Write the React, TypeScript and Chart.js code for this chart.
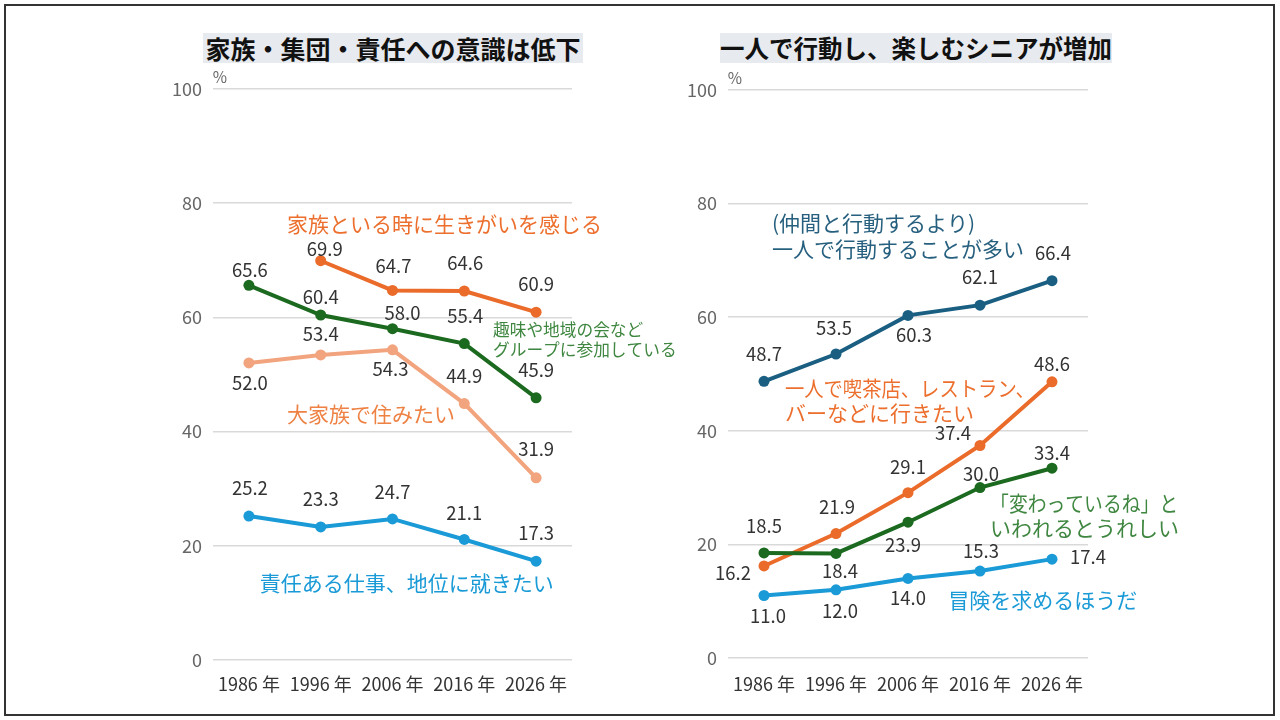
import React, { useEffect, useRef } from 'react';
import { Chart, registerables } from 'chart.js';

Chart.register(...registerables);

const FONT = '"Noto Sans CJK JP", "Noto Sans", sans-serif';

// ---- data ----
const YEARS = ['1986 年', '1996 年', '2006 年', '2016 年', '2026 年'];

// left chart
const FAMILY_TIME: (number | null)[] = [null, 69.9, 64.7, 64.6, 60.9];
const GROUP_HOBBY = [65.6, 60.4, 58.0, 55.4, 45.9];
const BIG_FAMILY = [52.0, 53.4, 54.3, 44.9, 31.9];
const RESPONSIBLE_JOB = [25.2, 23.3, 24.7, 21.1, 17.3];

// right chart
const ALONE_ACTION = [48.7, 53.5, 60.3, 62.1, 66.4];
const ALONE_CAFE = [16.2, 21.9, 29.1, 37.4, 48.6];
const ODD_PRAISE = [18.5, 18.4, 23.9, 30.0, 33.4];
const ADVENTURE = [11.0, 12.0, 14.0, 15.3, 17.4];

const Y_TICKS_STEP = 20;

// ---- styling ----
const C_ORANGE = '#ea6b2a';
const C_GREEN = '#1b6a1f';
const C_SALMON = '#f2a47e';
const C_BLUE = '#1a9ad6';
const C_TEAL = '#1a5f82';

type Series = { data: (number | null)[]; color: string; offsets: [number, number][] };
type Note = {
  lines: string[];
  idx: number;
  val: number;
  color: string;
  size: number;
  lineHeight: number;
  maxWidths?: (number | undefined)[];
};

const LEFT_SERIES: Series[] = [
  { data: FAMILY_TIME, color: C_ORANGE, offsets: [[0, 0], [4, -12], [1, -24], [1, -28], [0, -28]] },
  { data: GROUP_HOBBY, color: C_GREEN, offsets: [[1, -15], [0, -18], [10, -16], [1, -28], [0, -28]] },
  { data: BIG_FAMILY, color: C_SALMON, offsets: [[1, 20], [0, -21], [-2, 19], [0, -28], [0, -29]] },
  { data: RESPONSIBLE_JOB, color: C_BLUE, offsets: [[1, -28], [0, -28], [0, -27], [0, -27], [0, -28]] },
];

const RIGHT_SERIES: Series[] = [
  { data: ALONE_ACTION, color: C_TEAL, offsets: [[0, -27], [-2, -26], [6, 20], [0, -28], [1, -28]] },
  { data: ODD_PRAISE, color: C_GREEN, offsets: [[0, -27], [4, 18], [-5, 23], [1, -14], [0, -15]] },
  { data: ALONE_CAFE, color: C_ORANGE, offsets: [[-31, 7], [1, -27], [0, -26], [-27, -13], [0, -18]] },
  { data: ADVENTURE, color: C_BLUE, offsets: [[4, 20], [4, 21], [0, 20], [1, -20], [36, -2]] },
];

const LEFT_NOTES: Note[] = [
  { lines: ['家族といる時に生きがいを感じる'], idx: 0.53, val: 76.4, color: '#ec6f2e', size: 21, lineHeight: 24 },
  { lines: ['趣味や地域の会など', 'グループに参加している'], idx: 3.4, val: 57.9, color: '#3f8740', size: 16.7, lineHeight: 20 },
  { lines: ['大家族で住みたい'], idx: 0.53, val: 43.0, color: '#ee8244', size: 21, lineHeight: 24 },
  { lines: ['責任ある仕事、地位に就きたい'], idx: 0.15, val: 13.5, color: '#1a9ad6', size: 21, lineHeight: 24 },
];

const RIGHT_NOTES: Note[] = [
  { lines: ['(仲間と行動するより)', '一人で行動することが多い'], idx: 0.11, val: 76.6, color: '#27607f', size: 21, lineHeight: 26 },
  { lines: ['一人で喫茶店、レストラン、', 'バーなどに行きたい'], idx: 0.29, val: 47.6, color: '#ec6f2e', size: 21, lineHeight: 25, maxWidths: [250, undefined] },
  { lines: ['「変わっているね」と', 'いわれるとうれしい'], idx: 3.14, val: 27.2, color: '#3f8740', size: 21, lineHeight: 25, maxWidths: [188, undefined] },
  { lines: ['冒険を求めるほうだ'], idx: 2.56, val: 10.2, color: '#1a9ad6', size: 21, lineHeight: 24 },
];

function labelPlugin(series: Series[], notes: Note[]) {
  return {
    id: 'labels',
    afterDatasetsDraw(chart: any) {
      const ctx = chart.ctx;
      ctx.save();
      // data value labels
      ctx.font = `18.5px ${FONT}`;
      ctx.fillStyle = '#333';
      ctx.textAlign = 'center';
      ctx.textBaseline = 'middle';
      series.forEach((s, i) => {
        const meta = chart.getDatasetMeta(i);
        meta.data.forEach((pt: any, j: number) => {
          const v = s.data[j];
          if (v == null) return;
          const [dx, dy] = s.offsets[j];
          ctx.fillText(v.toFixed(1), pt.x + dx, pt.y + dy);
        });
      });
      // series notes
      ctx.textAlign = 'left';
      notes.forEach((n) => {
        const x = chart.scales.x.getPixelForValue(n.idx);
        const y = chart.scales.y.getPixelForValue(n.val);
        ctx.font = `${n.size}px ${FONT}`;
        ctx.fillStyle = n.color;
        n.lines.forEach((line, k) => {
          const mw = n.maxWidths ? n.maxWidths[k] : undefined;
          if (mw) ctx.fillText(line, x, y + k * n.lineHeight, mw);
          else ctx.fillText(line, x, y + k * n.lineHeight);
        });
      });
      // unit
      const area = chart.chartArea;
      ctx.font = `15.5px ${FONT}`;
      ctx.fillStyle = '#666';
      ctx.textAlign = 'center';
      ctx.fillText('%', area.left + 7, area.top - 12);
      ctx.restore();
    },
  };
}

function makeChart(canvas: HTMLCanvasElement, series: Series[], notes: Note[], xPad: number, padRight: number) {
  return new Chart(canvas, {
    type: 'line',
    data: {
      labels: YEARS,
      datasets: series.map((s) => ({
        data: s.data,
        borderColor: s.color,
        backgroundColor: s.color,
        pointBackgroundColor: s.color,
        pointBorderColor: s.color,
        borderWidth: 4,
        pointRadius: 5.5,
        pointBorderWidth: 0,
        tension: 0,
        spanGaps: false,
      })),
    },
    options: {
      responsive: false,
      animation: false,
      layout: { padding: { top: 11, right: padRight, left: 0, bottom: 0 } },
      plugins: { legend: { display: false }, tooltip: { enabled: false } },
      scales: {
        x: {
          offset: true,
          grid: { display: false, drawTicks: false },
          border: { display: false },
          ticks: { color: '#333', font: { family: FONT, size: 18 }, padding: xPad, maxRotation: 0, autoSkip: false },
          afterFit: (s: any) => {
            s.height = 46;
          },
        },
        y: {
          min: 0,
          max: 100,
          ticks: { stepSize: Y_TICKS_STEP, color: '#666', font: { family: FONT, size: 18 }, padding: 11 },
          grid: { color: '#d9d9d9', lineWidth: 1.5, drawTicks: false },
          border: { display: false },
          afterFit: (s: any) => {
            s.width = 63;
          },
        },
      },
    } as any,
    plugins: [labelPlugin(series, notes)],
  });
}

const titleStyle: React.CSSProperties = {
  position: 'absolute',
  top: 33,
  height: 30,
  lineHeight: '30px',
  background: '#e7eaee',
  color: '#111',
  fontFamily: FONT,
  fontWeight: 700,
  textAlign: 'center',
  whiteSpace: 'nowrap',
};

export default function App() {
  const leftRef = useRef<HTMLCanvasElement>(null);
  const rightRef = useRef<HTMLCanvasElement>(null);

  useEffect(() => {
    const a = makeChart(leftRef.current!, LEFT_SERIES, LEFT_NOTES, 13, 118);
    const b = makeChart(rightRef.current!, RIGHT_SERIES, RIGHT_NOTES, 15, 112);
    return () => {
      a.destroy();
      b.destroy();
    };
  }, []);

  return (
    <div style={{ position: 'fixed', left: 0, top: 0, width: 1280, height: 720, background: '#fff', overflow: 'hidden' }}>
      <div
        style={{
          position: 'absolute',
          left: 4,
          top: 4,
          width: 1271,
          height: 712,
          boxSizing: 'border-box',
          border: '2px solid #333',
        }}
      />
      <div style={{ ...titleStyle, left: 203, width: 380, fontSize: 25 }}>家族・集団・責任への意識は低下</div>
      <div style={{ ...titleStyle, left: 720, width: 392, fontSize: 24.5 }}>一人で行動し、楽しむシニアが増加</div>
      <canvas ref={leftRef} width={540} height={639} style={{ position: 'absolute', left: 150, top: 67, width: 540, height: 639 }} />
      <canvas ref={rightRef} width={535} height={636} style={{ position: 'absolute', left: 665, top: 68, width: 535, height: 636 }} />
    </div>
  );
}
